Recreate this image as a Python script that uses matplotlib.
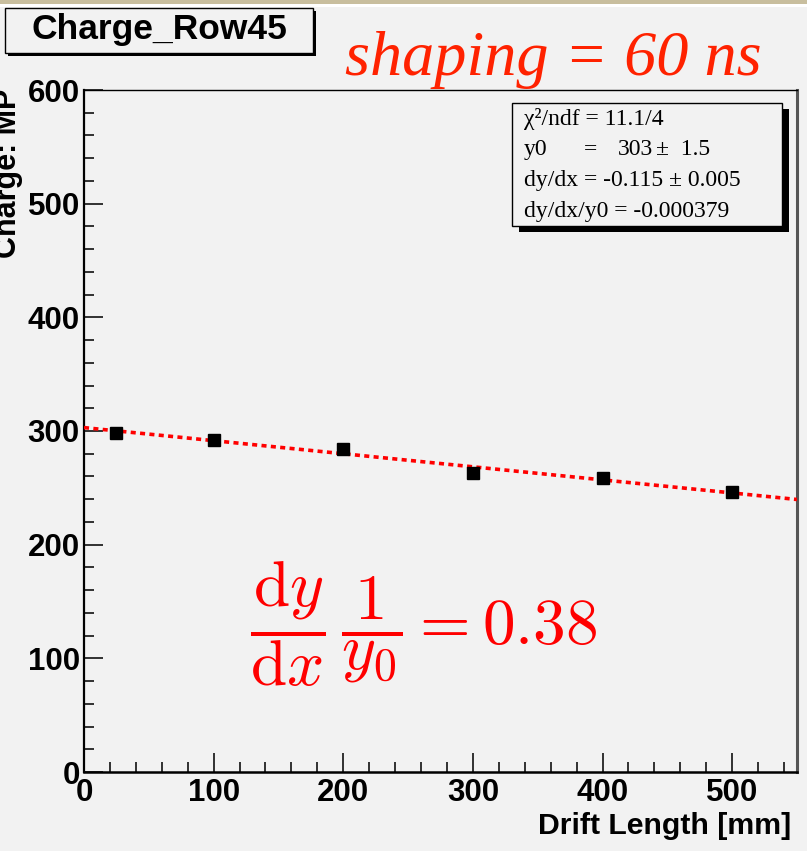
import matplotlib
matplotlib.use("Agg")
import matplotlib.pyplot as plt
from matplotlib.patches import Rectangle
from matplotlib.ticker import MultipleLocator
import numpy as np

# Measured charge per drift-length bin
drift_mm = [25, 100, 200, 300, 400, 500]
charge_mp = [298, 292, 284, 263, 258.5, 246]

# Linear fit parameters: y = y0 + dydx * x
fit_y0 = 303.0
fit_y0_err = 1.5
fit_dydx = -0.115
fit_dydx_err = 0.005
fit_rel_slope = -0.000379
fit_chi2 = 11.1
fit_ndf = 4

x_ticks = [0, 100, 200, 300, 400, 500]
y_ticks = [0, 100, 200, 300, 400, 500, 600]

W, H = 807, 851
DPI = 100
BG = "#f2f2f2"

fig = plt.figure(figsize=(W / DPI, H / DPI), dpi=DPI, facecolor=BG)


def fx(px):
    return px / W


def fy(py):
    return 1 - py / H


# textured strip along the top edge
fig.patches.append(Rectangle((0, fy(4.5)), 1, 4.5 / H, transform=fig.transFigure,
                             facecolor="#c8be9e", edgecolor="none", zorder=0))
fig.patches.append(Rectangle((0, fy(6.5)), 1, 2 / H, transform=fig.transFigure,
                             facecolor="#ffffff", edgecolor="none", zorder=0))

ax_l, ax_r, ax_t, ax_b = 84, 797, 90, 772
ax = fig.add_axes([fx(ax_l), fy(ax_b), (ax_r - ax_l) / W, (ax_b - ax_t) / H])
ax.set_facecolor(BG)
ax.set_xlim(0, 550)
ax.set_ylim(0, 600)

ax.set_xticks(x_ticks)
ax.set_yticks(y_ticks)
ax.xaxis.set_minor_locator(MultipleLocator(20))
ax.yaxis.set_minor_locator(MultipleLocator(20))
ax.tick_params(which="both", direction="in", top=False, right=False, width=1.3, color="#222222")
ax.tick_params(which="major", length=14)
ax.tick_params(which="minor", length=7)
ax.tick_params(axis="y", which="major", pad=3)
ax.tick_params(axis="x", which="major", pad=4)
for lab in ax.get_xticklabels() + ax.get_yticklabels():
    lab.set_fontfamily("Liberation Sans")
    lab.set_fontweight("bold")
    lab.set_fontsize(22.5)

ax.spines["left"].set_linewidth(1.6)
ax.spines["bottom"].set_linewidth(1.8)
ax.spines["top"].set_linewidth(1.0)
ax.spines["right"].set_linewidth(2.2)
ax.spines["right"].set_color("#555555")

# fit line
xf = np.array([0, 550])
ax.plot(xf, fit_y0 + fit_dydx * xf, color="#ff0000", lw=2.6,
        linestyle=(0, (1.4, 1.2)), zorder=3)
# data points
ax.plot(drift_mm, charge_mp, linestyle="none", marker="s", markersize=8.6,
        color="black", zorder=4)

# axis titles
fig.text(fx(791), fy(834), "Drift Length [mm]", ha="right", va="baseline",
         fontfamily="Liberation Sans", fontweight="bold", fontsize=21.8)
fig.text(fx(23), fy(89), "Charge: MP", rotation=90, ha="right", va="top",
         fontfamily="Liberation Sans", fontweight="bold", fontsize=22)

# title box
fig.patches.append(Rectangle((fx(8), fy(56)), 308 / W, 45 / H, transform=fig.transFigure,
                             facecolor="black", edgecolor="none", zorder=1))
fig.patches.append(Rectangle((fx(5), fy(53)), 308 / W, 45 / H, transform=fig.transFigure,
                             facecolor=BG, edgecolor="black", lw=1.0, zorder=2))
fig.text(fx(159), fy(30), "Charge_Row45", ha="center", va="center",
         fontfamily="Liberation Sans", fontweight="bold", fontsize=25.5, zorder=3)

# shaping annotation
fig.text(fx(345), fy(75), "shaping = 60 ns", ha="left", va="baseline",
         fontfamily="Liberation Serif", fontstyle="italic", fontsize=46.3,
         color="#ff2200")

# fit statistics box
sb_l, sb_t, sb_r, sb_b = 512, 103, 782, 226
fig.patches.append(Rectangle((fx(sb_l + 7), fy(sb_b + 6)), (sb_r - sb_l) / W, (sb_b - sb_t) / H,
                             transform=fig.transFigure, facecolor="black",
                             edgecolor="none", zorder=5))
fig.patches.append(Rectangle((fx(sb_l), fy(sb_b)), (sb_r - sb_l) / W, (sb_b - sb_t) / H,
                             transform=fig.transFigure, facecolor=BG,
                             edgecolor="black", lw=1.0, zorder=6))
st = dict(fontfamily="Liberation Serif", fontsize=17, ha="left", va="baseline", zorder=7)
fig.text(fx(524), fy(125), f"χ²/ndf = {fit_chi2:.1f}/{fit_ndf}", **st)
fig.text(fx(524), fy(155), "y0", **st)
fig.text(fx(584), fy(155), "=", **st)
fig.text(fx(653), fy(155), f"{fit_y0:.0f}", **{**st, "ha": "right"})
fig.text(fx(656), fy(155), f"±  {fit_y0_err:.1f}", **st)
fig.text(fx(524), fy(186), f"dy/dx = {fit_dydx:.3f} ± {fit_dydx_err:.3f}", **st)
fig.text(fx(524), fy(217), f"dy/dx/y0 = {fit_rel_slope:.6f}", **st)

# relative slope, per metre
rel_per_m = abs(fit_rel_slope) * 1000
plt.rcParams["mathtext.fontset"] = "cm"
fig.text(fx(250), fy(624),
         r"$\dfrac{\mathrm{d}y}{\mathrm{d}x}\,\dfrac{1}{y_0} = %.2f$" % rel_per_m,
         ha="left", va="center", fontsize=47, color="#ff0000")

fig.savefig("out.png", dpi=DPI, facecolor=BG)
